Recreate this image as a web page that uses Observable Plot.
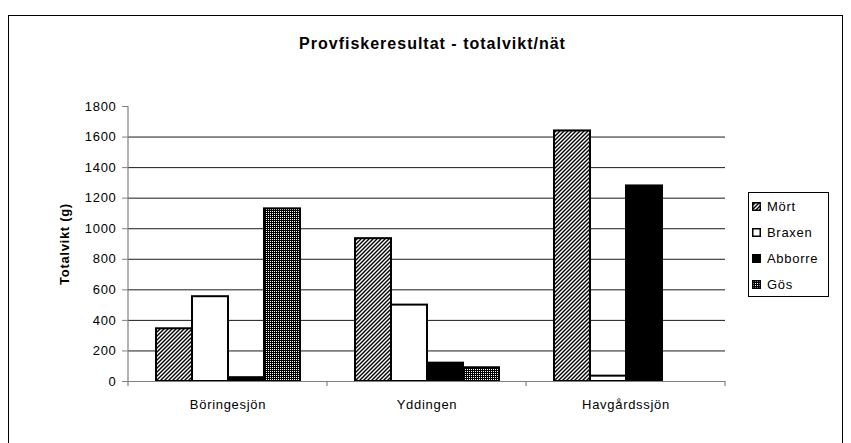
<!DOCTYPE html>
<html><head><meta charset="utf-8">
<script src="https://cdn.jsdelivr.net/npm/d3@7"></script>
<script src="https://cdn.jsdelivr.net/npm/@observablehq/plot@0.6"></script>
<style>
html,body{margin:0;padding:0;background:#fff;}
#wrap{position:relative;width:851px;height:443px;overflow:hidden;font-family:"Liberation Sans",Arial,sans-serif;color:#000;}
#frame{position:absolute;left:8px;top:15px;width:833px;height:500px;border:1.5px solid #000;}
#title{position:absolute;left:0;width:865px;top:36px;line-height:16px;text-align:center;font-weight:bold;font-size:16px;letter-spacing:1px;}
#legend{position:absolute;left:748px;top:192px;width:81px;height:105px;border:1px solid #000;box-sizing:border-box;background:#fff;}
.row{height:26px;display:flex;align-items:center;font-size:13px;letter-spacing:0.7px;}
.row svg{margin-left:3px;margin-right:6px;display:block;}
#chart{position:absolute;left:0;top:0;}
</style>
</head><body>
<svg width="0" height="0" style="position:absolute">
  <defs>
    <pattern id="hatch" width="4" height="4" patternUnits="userSpaceOnUse">
      <rect width="4" height="4" fill="#fff"/>
      <path d="M-1,1 l2,-2 M0,4 l4,-4 M3,5 l2,-2" stroke="#000" stroke-width="1.4"/>
    </pattern>
    <pattern id="grid" width="2" height="2" patternUnits="userSpaceOnUse">
      <rect width="2" height="2" fill="#000"/>
      <rect x="1" y="1" width="1" height="1" fill="#fff"/>
    </pattern>
  </defs>
</svg>
<div id="wrap">
  <div id="frame"></div>
  <div id="chart"></div>
  <div id="title">Provfiskeresultat - totalvikt/nät</div>
  <div id="legend"></div>
</div>
<script>
const lakes = ["Böringesjön", "Yddingen", "Havgårdssjön"];
const species = ["Mört", "Braxen", "Abborre", "Gös"];
const mort = [345, 935, 1640];
const braxen = [555, 500, 35];
const abborre = [25, 120, 1280];
const gos = [1130, 90, 0];
const yTicks = [0, 200, 400, 600, 800, 1000, 1200, 1400, 1600, 1800];
const fills = ["url(#hatch)", "#ffffff", "#000000", "url(#grid)"];
const yLabel = "Totalvikt (g)";

const series = [mort, braxen, abborre, gos];
const data = lakes.flatMap((lake, i) => series.map((s, j) => ({lake, species: species[j], value: s[i]})));

const chart = Plot.plot({
  width: 851, height: 443,
  marginLeft: 127, marginRight: 126, marginTop: 106, marginBottom: 62,
  style: {fontFamily: "'Liberation Sans', Arial, sans-serif", fontSize: "13px", letterSpacing: "0.7px", background: "transparent", overflow: "visible"},
  fx: {domain: lakes, padding: 0, label: null},
  x: {domain: species, paddingInner: 0, paddingOuter: 0.73, axis: null},
  y: {domain: [0, 1800], axis: null},
  color: {type: "ordinal", domain: species, range: fills},
  marks: [
    Plot.gridY(yTicks.filter(t => t > 0 && t < 1800), {stroke: "#1a1a1a", strokeOpacity: 1, strokeWidth: 1}),
    Plot.barY(data, {filter: d => d.value > 0, fx: "lake", x: "species", y: "value", fill: "species", stroke: "#000", strokeWidth: 2}),
    Plot.ruleY([0], {stroke: "#808080", strokeWidth: 1.2}),
    Plot.axisY({ticks: yTicks, tickSize: 6, tickPadding: 6, stroke: "#808080", label: null, tickFormat: d => String(d)}),
    Plot.axisFx({anchor: "bottom", tickSize: 0, tickPadding: 18, label: null}),
    Plot.text([yLabel], {facet: "super", frameAnchor: "left", textAnchor: "middle", dx: -64, rotate: -90, fontWeight: "bold", fontSize: 13})
  ]
});
document.getElementById("chart").appendChild(chart);

// axis line and category boundary ticks, positioned from Plot's own scales
const fxS = chart.scale("fx"), yS = chart.scale("y");
const svg = d3.select(chart);
const y0 = yS.apply(0), yTop = yS.apply(1800);
const xLeft = fxS.apply(lakes[0]);
const g = svg.append("g").attr("stroke", "#808080").attr("stroke-width", 1.2);
g.append("line").attr("x1", xLeft).attr("x2", xLeft).attr("y1", yTop).attr("y2", y0 + 5);
lakes.forEach(l => {
  const xr = fxS.apply(l) + fxS.bandwidth;
  g.append("line").attr("x1", xr).attr("x2", xr).attr("y1", y0).attr("y2", y0 + 5);
});

// legend
const leg = d3.select("#legend");
species.forEach((s, j) => {
  const row = leg.append("div").attr("class", "row");
  const sw = row.append("svg").attr("width", 9).attr("height", 9);
  sw.append("rect").attr("x", 0.75).attr("y", 0.75).attr("width", 7.5).attr("height", 7.5)
    .attr("fill", fills[j]).attr("stroke", "#000").attr("stroke-width", 1.5);
  row.append("span").text(s);
});
</script>
</body></html>
